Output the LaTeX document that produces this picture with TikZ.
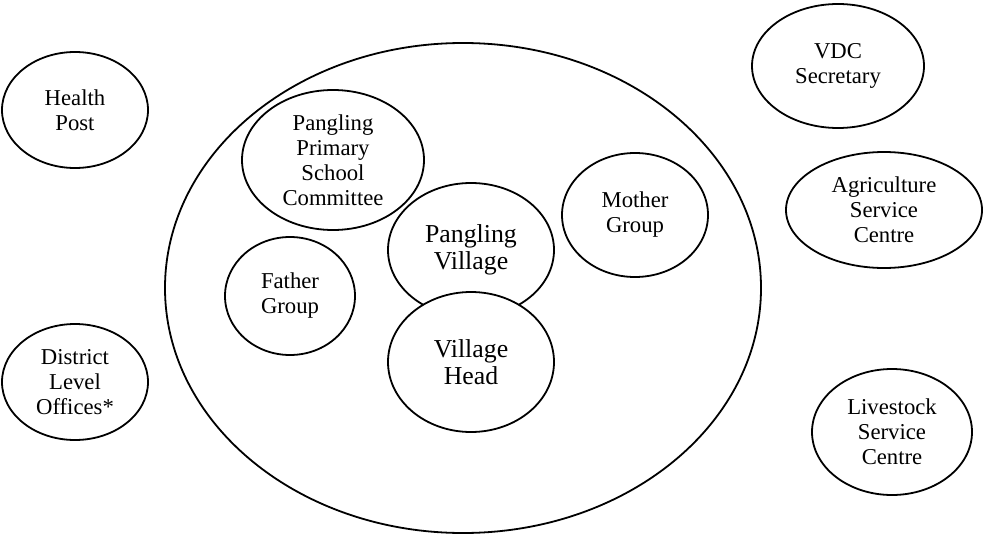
\documentclass[tikz,border=0pt]{standalone}
\usepackage{fontspec}
\setmainfont{Liberation Serif}
\usetikzlibrary{shapes.geometric}

\begin{document}
\begin{tikzpicture}[x=0.5pt,y=-0.5pt,
    actor/.style={ellipse, draw, line width=0.9pt, fill=white, inner sep=0pt, align=center,
        font=\fontsize{11.35}{12.5}\selectfont},
    core/.style={actor, font=\fontsize{12.9}{13.6}\selectfont}]
    \useasboundingbox (0,0) rectangle (984,535);
    % community boundary
    \node[actor, minimum width=298pt, minimum height=245pt] (village) at (463,288) {};
    % outside the village
    \node[actor, minimum width=73pt, minimum height=58pt] (health) at (75,110) {Health\\Post};
    \node[actor, minimum width=73pt, minimum height=58pt] (district) at (75,382) {District\\Level\\Offices*};
    \node[actor, minimum width=86pt, minimum height=62pt] (vdc) at (838,66) {VDC\\Secretary};
    \node[actor, minimum width=98pt, minimum height=58pt] (agri) at (884,210) {Agriculture\\Service\\Centre};
    \node[actor, minimum width=80pt, minimum height=63pt] (live) at (892,432) {Livestock\\Service\\Centre};
    % inside the village
    \node[actor, minimum width=91pt, minimum height=70pt] (school) at (333,160) {Pangling\\Primary\\School\\Committee};
    \node[actor, minimum width=65pt, minimum height=59pt] (father) at (290,296) {Father\\Group};
    \node[actor, minimum width=73pt, minimum height=62pt] (mother) at (635,215) {Mother\\Group};
    \node[core, minimum width=83pt, minimum height=67pt] (pangling) at (471,250) {Pangling\\Village};
    \node[core, minimum width=83pt, minimum height=70pt] (head) at (471,362) {Village\\Head};
\end{tikzpicture}
\end{document}
